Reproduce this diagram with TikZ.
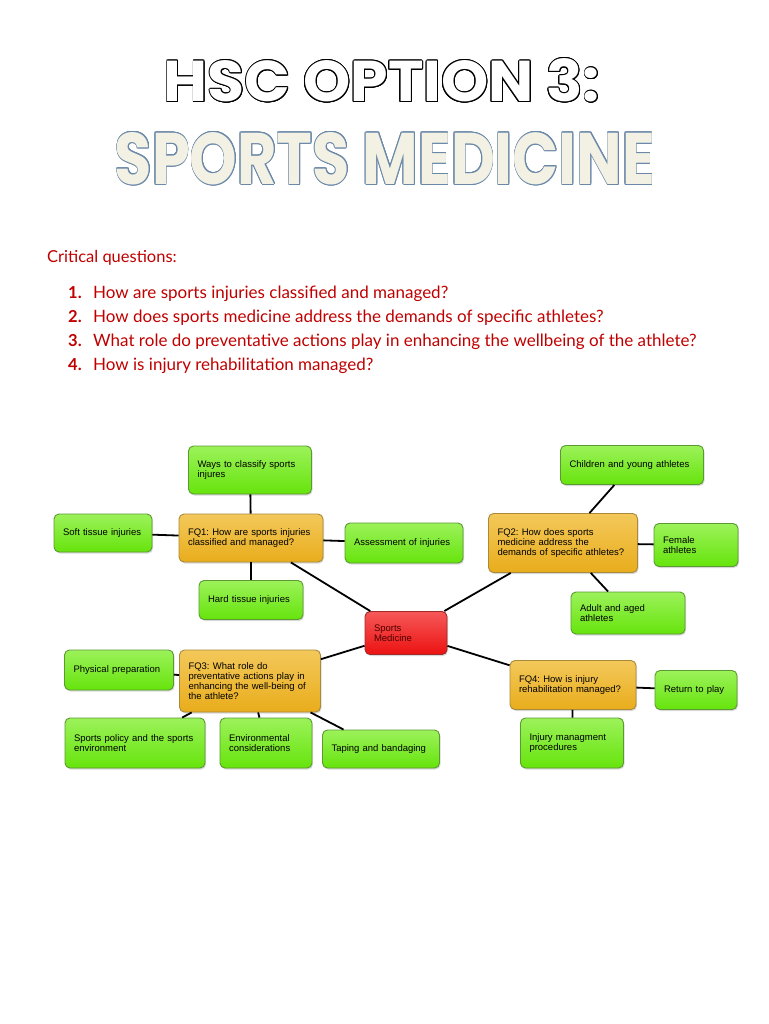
\documentclass[tikz,border=0pt]{standalone}
\usepackage{fontspec}
\setsansfont{Liberation Sans}
\newfontfamily\cqfont{Lato}
\newfontfamily\titlefont{Poppins}
\usepackage{graphicx}
\usepackage{contour}
\usetikzlibrary{shadows}
\definecolor{CQ_Red}{HTML}{C00000}
\definecolor{Title_Blue}{HTML}{6A88A8}
\definecolor{Title_Cream}{HTML}{F3F1E4}
\definecolor{Leaf_Fill}{HTML}{66E40C}
\definecolor{Leaf_Top}{HTML}{9CF25A}
\definecolor{Leaf_Line}{HTML}{5A9A30}
\definecolor{FQ_Fill}{HTML}{E9AD1C}
\definecolor{FQ_Top}{HTML}{F3C85A}
\definecolor{FQ_Line}{HTML}{A88A3A}
\definecolor{Hub_Fill}{HTML}{EC1212}
\definecolor{Hub_Top}{HTML}{F65858}
\definecolor{Hub_Line}{HTML}{A02A2A}
\contourlength{0.9pt}
\contournumber{16}

\begin{document}
\begin{tikzpicture}[x=1pt, y=-1pt,
  box/.style={draw, rounded corners=5pt, line width=0.9pt, align=left,
    font=\sffamily\fontsize{9.5}{10.2}\selectfont\frenchspacing, inner xsep=9pt, inner ysep=3pt,
    drop shadow={opacity=0.3, shadow xshift=1pt, shadow yshift=-1.5pt}},
  leaf/.style={box, draw=Leaf_Line, top color=Leaf_Top, bottom color=Leaf_Fill},
  fq/.style={box, draw=FQ_Line, top color=FQ_Top, bottom color=FQ_Fill},
  hub/.style={box, draw=Hub_Line, top color=Hub_Top, bottom color=Hub_Fill, text=black!70!red},
  cqtext/.style={anchor=base west, inner sep=0, text=CQ_Red, font=\cqfont\fontsize{17}{20}\selectfont},
  link/.style={line width=1.8pt, black}]
  \fill[white] (0,0) rectangle (768,1024);
  \useasboundingbox (0,0) rectangle (768,1024);

  \node[inner sep=0] (title) at (382,81)
    {\resizebox{436pt}{43pt}{\titlefont\bfseries\fontsize{58}{60}\selectfont\contour{black}{\textcolor{white}{HSC OPTION 3:}}}};
  \node[inner sep=0] (subtitle) at (385,159)
    {\resizebox{540pt}{52pt}{\titlefont\bfseries\fontsize{72}{74}\selectfont\contour{Title_Blue}{\textcolor{Title_Cream}{SPORTS MEDICINE}}}};

  \node[cqtext, font=\cqfont\fontsize{16.5}{19}\selectfont] (cq) at (47,262) {Critical questions:};
  \foreach \n/\q in {1/How are sports injuries classified and managed?,
                     2/How does sports medicine address the demands of specific athletes?,
                     3/What role do preventative actions play in enhancing the wellbeing of the athlete?,
                     4/How is injury rehabilitation managed?} {
    \node[cqtext, font=\cqfont\bfseries\fontsize{16.5}{19}\selectfont] (num\n) at (68,{274+24*\n}) {\n.};
    \node[cqtext] (q\n) at (93,{274+24*\n}) {\q};
  }

  \node[hub, text width=64pt, minimum height=43pt] (hub) at (406,633) {Sports\\Medicine};

  \node[fq, text width=126pt, minimum height=48pt] (fq1) at (251,538) {FQ1: How are sports injuries\\classified and managed?};
  \node[leaf, text width=105pt, minimum height=48pt] (ways) at (250,470) {Ways to classify sports\\injures};
  \node[leaf, text width=80pt, minimum height=38pt] (soft) at (103,533) {Soft tissue injuries};
  \node[leaf, text width=100pt, minimum height=40pt] (assess) at (404,543) {Assessment of injuries};
  \node[leaf, text width=86pt, minimum height=39pt] (hard) at (251,600) {Hard tissue injuries};

  \node[fq, text width=131pt, minimum height=59pt] (fq2) at (563,543) {FQ2: How does sports\\medicine address the\\demands of specific athletes?};
  \node[leaf, text width=125pt, minimum height=39pt] (child) at (632,465) {Children and young athletes};
  \node[leaf, text width=66pt, minimum height=43pt] (female) at (696,545) {Female\\athletes};
  \node[leaf, text width=96pt, minimum height=42pt] (adult) at (628,613) {Adult and aged\\athletes};

  \node[fq, text width=123pt, minimum height=62pt] (fq3) at (250,681) {FQ3: What role do\\preventative actions play in\\enhancing the well-being of\\the athlete?};
  \node[leaf, text width=91pt, minimum height=40pt] (phys) at (119,670) {Physical preparation};
  \node[leaf, text width=122pt, minimum height=50pt] (policy) at (135,743) {Sports policy and the sports\\environment};
  \node[leaf, text width=74pt, minimum height=50pt] (env) at (266,743) {Environmental\\considerations};
  \node[leaf, text width=99pt, minimum height=38pt] (tape) at (381,749) {Taping and bandaging};

  \node[fq, text width=108pt, minimum height=49pt] (fq4) at (573,685) {FQ4: How is injury\\rehabilitation managed?};
  \node[leaf, text width=64pt, minimum height=39pt] (ret) at (696,690) {Return to play};
  \node[leaf, text width=85pt, minimum height=50pt] (mgmt) at (572,743) {Injury managment\\procedures};

  \foreach \a/\b in {fq1/ways, fq1/soft, fq1/assess, fq1/hard, fq1/hub,
                     fq2/child, fq2/female, fq2/adult, fq2/hub,
                     fq3/hub, fq3/phys, fq3/policy, fq3/env, fq3/tape,
                     fq4/hub, fq4/ret, fq4/mgmt}
    \draw[link] (\a) -- (\b);
\end{tikzpicture}
\end{document}
